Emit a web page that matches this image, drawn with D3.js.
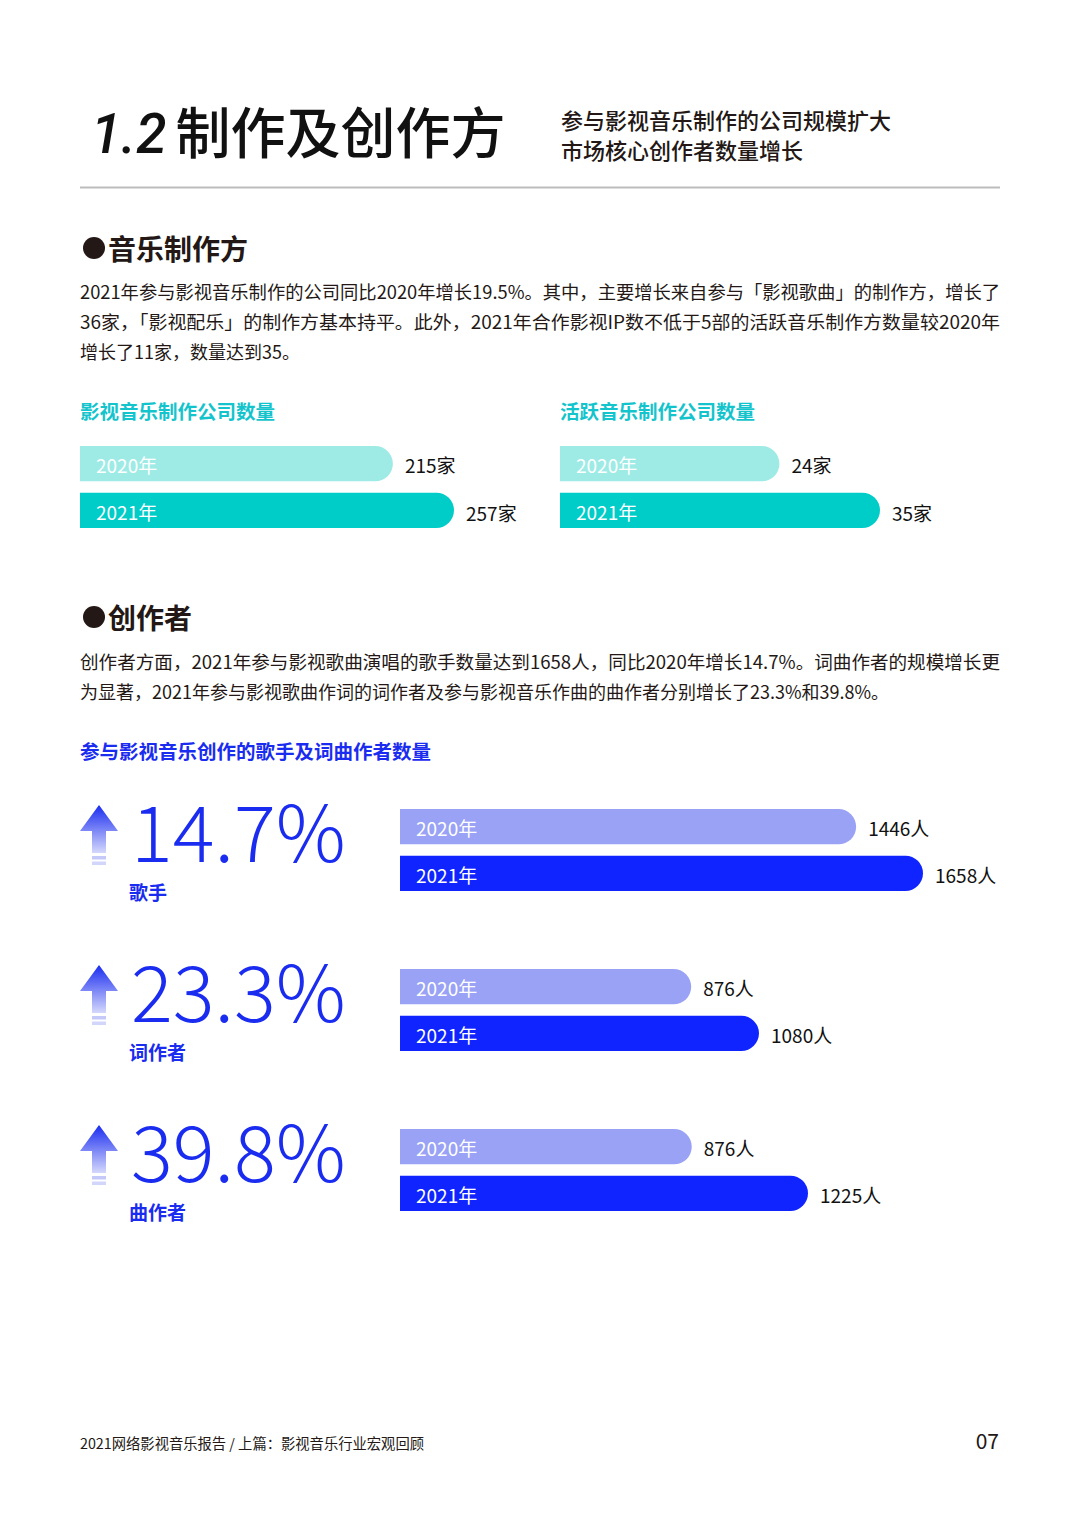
<!DOCTYPE html>
<html><head><meta charset="utf-8">
<script src="https://cdn.jsdelivr.net/npm/d3@7"></script>
<style>
html,body{margin:0;padding:0;background:#fff;}
svg{display:block;}
text{font-family:"Noto Sans CJK SC","Noto Sans",sans-serif;}
</style></head>
<body><svg id="c" width="1080" height="1530"></svg>
<script>
// ---- data ----
const yearCategories = ['2020年', '2021年'];
const prodCompanies = [215, 257];      // 影视音乐制作公司数量 (家)
const activeCompanies = [24, 35];      // 活跃音乐制作公司数量 (家)
const creatorGroups = ['歌手', '词作者', '曲作者'];
const creators2020 = [1446, 876, 876]; // 人
const creators2021 = [1658, 1080, 1225];
const growthRates = ['14.7%', '23.3%', '39.8%'];

const para1 = [
  '2021年参与影视音乐制作的公司同比2020年增长19.5%。其中，主要增长来自参与「影视歌曲」的制作方，增长了',
  '36家，「影视配乐」的制作方基本持平。此外，2021年合作影视IP数不低于5部的活跃音乐制作方数量较2020年',
  '增长了11家，数量达到35。'
];
const para2 = [
  '创作者方面，2021年参与影视歌曲演唱的歌手数量达到1658人，同比2020年增长14.7%。词曲作者的规模增长更',
  '为显著，2021年参与影视歌曲作词的词作者及参与影视音乐作曲的曲作者分别增长了23.3%和39.8%。'
];

// ---- drawing ----
const svg = d3.select('#c');
const dark = '#231815';

// title
const title = svg.append('text').attr('x', 91).attr('y', 153).attr('fill', '#111');
title.append('tspan').text('1.2').attr('font-style', 'italic').attr('font-size', 55)
  .attr('font-family', 'Roboto, "Noto Sans", sans-serif').attr('font-weight', 500);
title.append('tspan').text('制作及创作方').attr('dx', 9).attr('font-size', 55).attr('font-weight', 500);

svg.append('text').attr('x', 561).attr('y', 129).attr('font-size', 22).attr('fill', dark).attr('font-weight', 500)
  .text('参与影视音乐制作的公司规模扩大');
svg.append('text').attr('x', 561).attr('y', 159).attr('font-size', 22).attr('fill', dark).attr('font-weight', 500)
  .text('市场核心创作者数量增长');

svg.append('line').attr('x1', 80).attr('x2', 1000).attr('y1', 187.5).attr('y2', 187.5)
  .attr('stroke', '#bdbdbd').attr('stroke-width', 2);

// section header helper
function header(y, label) {
  svg.append('circle').attr('cx', 94).attr('cy', y).attr('r', 11).attr('fill', dark);
  svg.append('text').attr('x', 108).attr('y', y).attr('dominant-baseline', 'central')
    .attr('font-size', 28).attr('font-weight', 700).attr('fill', dark).text(label);
}
function paragraph(y0, lines, justifyCount) {
  lines.forEach((l, i) => {
    const t = svg.append('text').attr('x', 80).attr('y', y0 + i * 30).attr('dominant-baseline', 'central')
      .attr('font-size', 18).attr('fill', dark).text(l);
    if (i < justifyCount) t.attr('textLength', 920).attr('lengthAdjust', 'spacingAndGlyphs');
  });
}

header(248, '音乐制作方');
paragraph(291, para1, 2);

// small bar charts
function roundBar(x0, y0, w, h) {
  const r = h / 2;
  return `M${x0},${y0}H${x0 + w - r}A${r},${r} 0 0 1 ${x0 + w - r},${y0 + h}H${x0}Z`;
}
const teal = ['#9eebe6', '#00ccc8'];
function smallChart(x0, titleText, values, maxW) {
  svg.append('text').attr('x', x0).attr('y', 410).attr('dominant-baseline', 'central')
    .attr('font-size', 19.5).attr('font-weight', 700).attr('fill', '#14c4cc').text(titleText);
  const x = d3.scaleLinear().domain([0, d3.max(values)]).range([0, maxW]);
  const y = d3.scaleBand().domain(yearCategories).range([446, 528]).paddingInner(10 / 41);
  const g = svg.append('g');
  yearCategories.forEach((c, i) => {
    g.append('path').attr('d', roundBar(x0, y(c), x(values[i]), y.bandwidth())).attr('fill', teal[i]);
    g.append('text').attr('x', x0 + 16).attr('y', y(c) + y.bandwidth() / 2 + 1).attr('dominant-baseline', 'central')
      .attr('font-size', 19).attr('fill', '#fff').text(c);
    g.append('text').attr('x', x0 + x(values[i]) + 12).attr('y', y(c) + y.bandwidth() / 2 + 1 + i)
      .attr('dominant-baseline', 'central').attr('font-size', 19).attr('fill', '#111').text(values[i] + '家');
  });
}
smallChart(80, '影视音乐制作公司数量', prodCompanies, 374);
smallChart(560, '活跃音乐制作公司数量', activeCompanies, 320);

header(617, '创作者');
paragraph(661, para2, 1);

svg.append('text').attr('x', 80).attr('y', 750).attr('dominant-baseline', 'central')
  .attr('font-size', 19.5).attr('font-weight', 700).attr('fill', '#1a2cf0').text('参与影视音乐创作的歌手及词曲作者数量');

// arrow gradient
const defs = svg.append('defs');
const grad = defs.append('linearGradient').attr('id', 'ag').attr('x1', 0).attr('y1', 0).attr('x2', 0).attr('y2', 1);
grad.append('stop').attr('offset', '0%').attr('stop-color', '#1a2cf0');
grad.append('stop').attr('offset', '100%').attr('stop-color', '#d4d8fb');

const blue = ['#99a2f5', '#0f24ff'];
const groupMaxW = [523, 359, 408];
creatorGroups.forEach((grp, gi) => {
  const top = 809 + gi * 160;
  const vals = [creators2020[gi], creators2021[gi]];
  const x = d3.scaleLinear().domain([0, d3.max(vals)]).range([0, groupMaxW[gi]]);
  const y = d3.scaleBand().domain(yearCategories).range([top, top + 82]).paddingInner(10 / 41);
  const g = svg.append('g');
  // arrow
  const ay = top - 4;
  const ag = g.append('g');
  ag.append('path').attr('d', `M99,${ay}L118,${ay + 26}H106V${ay + 48}H92V${ay + 26}H80Z`).attr('fill', 'url(#ag)');
  ag.append('rect').attr('x', 92).attr('y', ay + 51).attr('width', 14).attr('height', 3.5).attr('fill', '#c4c9fa');
  ag.append('rect').attr('x', 92).attr('y', ay + 56.5).attr('width', 14).attr('height', 3.5).attr('fill', '#d2d6fb');
  // big number
  g.append('text').attr('x', 131).attr('y', top + 53).attr('font-size', 78).attr('font-weight', 300)
    .attr('font-family', 'Roboto, "Noto Sans", sans-serif').attr('fill', '#1a2cf0').text(growthRates[gi]);
  g.append('text').attr('x', 129).attr('y', top + 82).attr('dominant-baseline', 'central')
    .attr('font-size', 19).attr('font-weight', 700).attr('fill', '#1a2cf0').text(grp);
  yearCategories.forEach((c, i) => {
    g.append('path').attr('d', roundBar(400, y(c), x(vals[i]), y.bandwidth())).attr('fill', blue[i]);
    g.append('text').attr('x', 416).attr('y', y(c) + y.bandwidth() / 2 + 1).attr('dominant-baseline', 'central')
      .attr('font-size', 19).attr('fill', '#fff').text(c);
    g.append('text').attr('x', 400 + x(vals[i]) + 12).attr('y', y(c) + y.bandwidth() / 2 + 1)
      .attr('dominant-baseline', 'central').attr('font-size', 19).attr('fill', '#111').text(vals[i] + '人');
  });
});

// footer
svg.append('text').attr('x', 80).attr('y', 1442).attr('dominant-baseline', 'central')
  .attr('font-size', 14.3).attr('fill', dark).text('2021网络影视音乐报告 / 上篇：影视音乐行业宏观回顾');
svg.append('text').attr('x', 999).attr('y', 1440).attr('dominant-baseline', 'central').attr('text-anchor', 'end')
  .attr('font-size', 21).attr('fill', dark).text('07');
</script></body></html>
